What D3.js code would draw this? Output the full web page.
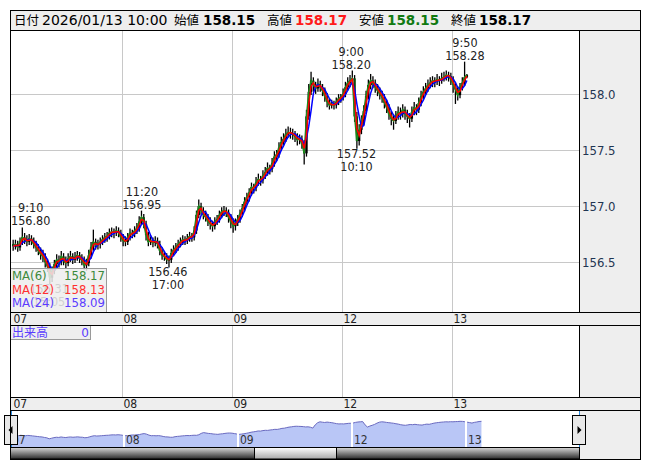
<!DOCTYPE html>
<html>
<head>
<meta charset="utf-8">
<script src="https://cdn.jsdelivr.net/npm/d3@7"></script>
<style>
  body { margin: 0; background: #fff; }
</style>
</head>
<body>
<svg></svg>
<script>
// 30分足 (USD/JPY), 07 7:00 -> 13 10:00
const dayLabels = ["07", "08", "09", "12", "13"];
const barsPerDay = 48;
const barMinutes = 30;
const sourceMinutes = 5; // MA periods of the original 5-minute chart

const opens = [
  // 07
  156.66,156.64,156.66,156.63,156.68,156.72,156.70,156.68,156.71,156.69,156.66,156.63,156.60,156.57,156.55,156.50,
  156.46,156.36,156.42,156.48,156.52,156.50,156.55,156.51,156.49,156.53,156.55,156.52,156.54,156.56,156.53,156.52,
  156.47,156.49,156.56,156.63,156.68,156.65,156.66,156.68,156.70,156.72,156.73,156.76,156.77,156.76,156.78,156.76,
  // 08
  156.72,156.69,156.68,156.72,156.76,156.75,156.78,156.80,156.86,156.90,156.84,156.74,156.68,156.69,156.67,156.69,
  156.66,156.60,156.56,156.55,156.52,156.52,156.58,156.61,156.63,156.66,156.68,156.70,156.69,156.71,156.73,156.72,
  156.78,156.92,157.00,156.96,156.92,156.90,156.86,156.84,156.82,156.86,156.88,156.92,156.95,156.96,156.94,156.90,
  // 09
  156.86,156.82,156.85,156.88,156.93,156.98,157.04,157.08,157.12,157.17,157.16,157.21,157.24,157.23,157.27,157.30,
  157.34,157.33,157.38,157.44,157.46,157.52,157.57,157.60,157.64,157.66,157.65,157.64,157.62,157.59,157.60,157.56,
  157.47,157.80,158.02,158.12,158.08,158.05,158.09,158.06,158.03,157.98,157.93,157.90,157.91,157.90,157.93,157.96,
  // 12
  157.97,158.00,158.06,158.10,158.12,158.14,157.80,157.58,157.68,157.76,157.85,157.98,158.08,158.12,158.10,158.06,
  158.03,158.00,157.97,157.92,157.88,157.82,157.78,157.76,157.80,157.84,157.82,157.86,157.82,157.80,157.78,157.84,
  157.88,157.86,157.92,157.98,158.02,158.05,158.08,158.10,158.12,158.11,158.13,158.12,158.14,158.15,158.17,158.16,
  // 13
  158.13,158.08,158.04,157.99,158.06,158.10,158.15
];
const highs = [
  156.69,156.69,156.68,156.71,156.80,156.75,156.73,156.74,156.73,156.71,156.68,156.65,156.62,156.60,156.57,156.52,
  156.48,156.45,156.51,156.56,156.55,156.59,156.57,156.54,156.57,156.59,156.57,156.58,156.59,156.58,156.56,156.54,
  156.52,156.60,156.67,156.78,156.70,156.69,156.71,156.73,156.75,156.76,156.79,156.80,156.79,156.81,156.80,156.78,
  156.74,156.72,156.75,156.79,156.78,156.81,156.84,156.90,156.95,156.92,156.86,156.76,156.72,156.71,156.72,156.71,
  156.68,156.62,156.59,156.57,156.55,156.61,156.64,156.66,156.69,156.71,156.73,156.72,156.74,156.76,156.75,156.81,
  156.95,157.05,157.02,156.98,156.95,156.92,156.89,156.86,156.89,156.91,156.95,156.98,156.99,156.98,156.96,156.92,
  156.88,156.88,156.91,156.96,157.01,157.07,157.11,157.15,157.20,157.19,157.25,157.28,157.26,157.31,157.34,157.38,
  157.36,157.42,157.48,157.49,157.56,157.61,157.64,157.68,157.70,157.69,157.68,157.66,157.64,157.63,157.62,157.58,
  157.85,158.08,158.19,158.14,158.10,158.13,158.11,158.08,158.05,158.00,157.95,157.94,157.93,157.96,157.99,157.99,
  158.04,158.10,158.14,158.16,158.20,158.16,157.83,157.72,157.80,157.89,158.02,158.12,158.17,158.15,158.12,158.08,
  158.05,158.02,157.99,157.94,157.90,157.84,157.81,157.84,157.88,157.87,157.90,157.88,157.85,157.82,157.88,157.92,
  157.90,157.96,158.02,158.06,158.09,158.12,158.14,158.15,158.14,158.17,158.15,158.18,158.19,158.20,158.19,158.18,
  158.15,158.10,158.06,158.09,158.14,158.28,158.17
];
const lows = [
  156.61,156.62,156.60,156.61,156.66,156.67,156.65,156.66,156.66,156.63,156.60,156.57,156.53,156.51,156.46,156.42,
  156.31,156.33,156.40,156.46,156.46,156.48,156.48,156.45,156.47,156.51,156.49,156.50,156.52,156.50,156.48,156.44,
  156.43,156.47,156.54,156.61,156.62,156.62,156.63,156.66,156.68,156.69,156.71,156.73,156.72,156.74,156.73,156.69,
  156.65,156.65,156.66,156.70,156.72,156.73,156.76,156.78,156.84,156.81,156.70,156.65,156.66,156.64,156.65,156.63,
  156.57,156.53,156.52,156.49,156.46,156.50,156.56,156.59,156.61,156.64,156.66,156.66,156.67,156.69,156.69,156.70,
  156.76,156.90,156.93,156.89,156.87,156.83,156.80,156.78,156.80,156.84,156.86,156.90,156.92,156.91,156.86,156.81,
  156.77,156.79,156.83,156.86,156.91,156.96,157.02,157.05,157.10,157.12,157.14,157.19,157.19,157.21,157.25,157.28,
  157.29,157.31,157.36,157.41,157.44,157.50,157.55,157.58,157.62,157.61,157.60,157.58,157.55,157.56,157.52,157.38,
  157.45,157.78,158.00,158.03,158.01,158.03,158.03,157.99,157.94,157.89,157.87,157.88,157.87,157.88,157.91,157.93,
  157.95,157.98,158.04,158.07,158.09,157.76,157.52,157.55,157.65,157.73,157.83,157.96,158.05,158.06,158.02,157.99,
  157.96,157.93,157.88,157.84,157.78,157.73,157.69,157.74,157.78,157.78,157.80,157.78,157.75,157.71,157.76,157.82,
  157.82,157.84,157.90,157.96,158.00,158.03,158.06,158.07,158.07,158.09,158.08,158.10,158.12,158.13,158.12,158.09,
  158.02,157.92,157.95,157.97,158.04,158.08,158.15
];
const closes = [
  156.64,156.66,156.63,156.68,156.72,156.70,156.68,156.71,156.69,156.66,156.63,156.60,156.57,156.55,156.50,156.46,
  156.36,156.42,156.48,156.52,156.50,156.55,156.51,156.49,156.53,156.55,156.52,156.54,156.56,156.53,156.52,156.47,
  156.49,156.56,156.63,156.68,156.65,156.66,156.68,156.70,156.72,156.73,156.76,156.77,156.76,156.78,156.76,156.72,
  156.69,156.68,156.72,156.76,156.75,156.78,156.80,156.86,156.90,156.84,156.74,156.68,156.69,156.67,156.69,156.66,
  156.60,156.56,156.55,156.52,156.52,156.58,156.61,156.63,156.66,156.68,156.70,156.69,156.71,156.73,156.72,156.78,
  156.92,157.00,156.96,156.92,156.90,156.86,156.84,156.82,156.86,156.88,156.92,156.95,156.96,156.94,156.90,156.86,
  156.82,156.85,156.88,156.93,156.98,157.04,157.08,157.12,157.17,157.16,157.21,157.24,157.23,157.27,157.30,157.34,
  157.33,157.38,157.44,157.46,157.52,157.57,157.60,157.64,157.66,157.65,157.64,157.62,157.59,157.60,157.56,157.47,
  157.80,158.02,158.12,158.08,158.05,158.09,158.06,158.03,157.98,157.93,157.90,157.91,157.90,157.93,157.96,157.97,
  158.00,158.06,158.10,158.12,158.14,157.80,157.58,157.68,157.76,157.85,157.98,158.08,158.12,158.10,158.06,158.03,
  158.00,157.97,157.92,157.88,157.82,157.78,157.76,157.80,157.84,157.82,157.86,157.82,157.80,157.78,157.84,157.88,
  157.86,157.92,157.98,158.02,158.05,158.08,158.10,158.12,158.11,158.13,158.12,158.14,158.15,158.17,158.16,158.13,
  158.08,158.04,157.99,158.06,158.10,158.15,158.17
];

const maNames = ["MA(6)", "MA(12)", "MA(24)"];
const maPeriods = [6, 12, 24];
const maLatest = [158.17, 158.13, 158.09];
const priceTicks = [156.5, 157.0, 157.5, 158.0];

const headerDate = "2026/01/13 10:00";
const headerLabels = ["始値", "高値", "安値", "終値"];
const headerValues = [158.15, 158.17, 158.15, 158.17];

// high / low notes on the chart
const noteTimes = ["9:10", "15:05", "11:20", "17:00", "9:00", "10:10", "9:50"];
const noteDays = [0, 0, 1, 1, 3, 3, 4];
const notePrices = [156.80, 156.31, 156.95, 156.46, 158.20, 157.52, 158.28];
const noteKinds = ["high", "low", "high", "low", "high", "low", "high"];

const volumeLatest = 0;

// ---- layout
const W = 653, H = 470;
const L = 10, R = 640, plotR = 579;
const plotTop = 30, plotBot = 312, bar1Bot = 325, volBot = 397, bar2Bot = 410, navBot = 447, bottom = 459;
const F = '"DejaVu Sans Condensed","DejaVu Sans","Noto Sans CJK JP",sans-serif';
const FH = '"DejaVu Sans","Noto Sans CJK JP",sans-serif';

const svg = d3.select("svg").attr("width", W).attr("height", H);
const n = closes.length;

const x = d3.scaleLinear().domain([0, barsPerDay]).range([12, 122]);
const y = d3.scaleLinear().domain([156.5, 158.0]).range([262, 94]);

const defs = svg.append("defs");
defs.append("clipPath").attr("id", "clip")
  .append("rect").attr("x", L + 1).attr("y", plotTop).attr("width", plotR - L - 1).attr("height", plotBot - plotTop);
defs.append("clipPath").attr("id", "navclip")
  .append("rect").attr("x", L + 1).attr("y", bar2Bot).attr("width", plotR - L - 1).attr("height", navBot - bar2Bot);
const tg = defs.append("linearGradient").attr("id", "track").attr("x1", 0).attr("y1", 0).attr("x2", 0).attr("y2", 1);
tg.append("stop").attr("offset", "0%").attr("stop-color", "#d8d8d8");
tg.append("stop").attr("offset", "100%").attr("stop-color", "#2a2a2a");
const thg = defs.append("linearGradient").attr("id", "thumb").attr("x1", 0).attr("y1", 0).attr("x2", 0).attr("y2", 1);
thg.append("stop").attr("offset", "0%").attr("stop-color", "#ffffff");
thg.append("stop").attr("offset", "100%").attr("stop-color", "#a8a8a8");

// ---- panels
const bg = svg.append("g");
bg.append("rect").attr("x", L).attr("y", 10).attr("width", R - L).attr("height", 20).attr("fill", "#eeeeee");
bg.append("rect").attr("x", L).attr("y", plotTop).attr("width", plotR - L).attr("height", plotBot - plotTop).attr("fill", "#fff");
bg.append("rect").attr("x", plotR).attr("y", plotTop).attr("width", R - plotR).attr("height", plotBot - plotTop).attr("fill", "#eeeeee");
bg.append("rect").attr("x", L).attr("y", plotBot).attr("width", R - L).attr("height", bar1Bot - plotBot).attr("fill", "#eeeeee");
bg.append("rect").attr("x", L).attr("y", bar1Bot).attr("width", plotR - L).attr("height", volBot - bar1Bot).attr("fill", "#fff");
bg.append("rect").attr("x", plotR).attr("y", bar1Bot).attr("width", R - plotR).attr("height", volBot - bar1Bot).attr("fill", "#eeeeee");
bg.append("rect").attr("x", L).attr("y", volBot).attr("width", R - L).attr("height", bar2Bot - volBot).attr("fill", "#eeeeee");
bg.append("rect").attr("x", L).attr("y", bar2Bot).attr("width", plotR - L).attr("height", navBot - bar2Bot).attr("fill", "#fff");
bg.append("rect").attr("x", plotR).attr("y", bar2Bot).attr("width", R - plotR).attr("height", bottom - bar2Bot).attr("fill", "#eeeeee");

// grid
const dayStarts = dayLabels.map((d, k) => k * barsPerDay);
const grid = svg.append("g").attr("stroke", "#c8c8c8").attr("shape-rendering", "crispEdges");
priceTicks.forEach(t => {
  grid.append("line").attr("x1", L).attr("x2", plotR).attr("y1", Math.round(y(t)) + 0.5).attr("y2", Math.round(y(t)) + 0.5);
});
dayStarts.slice(1).forEach(s => {
  const xx = Math.round(x(s)) + 0.5;
  grid.append("line").attr("x1", xx).attr("x2", xx).attr("y1", plotTop).attr("y2", plotBot);
  grid.append("line").attr("x1", xx).attr("x2", xx).attr("y1", bar1Bot).attr("y2", volBot);
});

// y axis
svg.append("g")
  .attr("transform", `translate(${plotR},0)`)
  .call(d3.axisRight(y).tickValues(priceTicks).tickFormat(d3.format(".1f")).tickSize(0).tickPadding(3))
  .attr("font-family", F).attr("font-size", 13)
  .call(g => g.select(".domain").remove())
  .selectAll("text").attr("fill", "#1f3552");

// day labels in both date bars
[plotBot + 10.5, volBot + 10.5].forEach(base => {
  svg.append("g").selectAll("text").data(dayLabels).join("text")
    .attr("x", (d, k) => x(dayStarts[k]) + 1.5)
    .attr("y", base)
    .attr("font-family", F).attr("font-size", 12).attr("fill", "#222")
    .text(d => d);
});

// ---- candles
const plot = svg.append("g").attr("clip-path", "url(#clip)");
const idx = d3.range(n);
plot.selectAll("line.wick").data(idx).join("line").attr("class", "wick")
  .attr("x1", i => x(i + 0.5)).attr("x2", i => x(i + 0.5))
  .attr("y1", i => y(highs[i]) - 1).attr("y2", i => y(lows[i]) + 1)
  .attr("stroke", "#000").attr("stroke-width", 1.3);
plot.selectAll("rect.body").data(idx).join("rect").attr("class", "body")
  .attr("x", i => x(i + 0.5) - 1.15).attr("width", 2.3)
  .attr("y", i => y(Math.max(opens[i], closes[i])))
  .attr("height", i => Math.max(1, Math.abs(y(opens[i]) - y(closes[i]))))
  .attr("fill", i => closes[i] >= opens[i] ? "#000" : "#0d4d0d");

// moving averages (periods converted to 30-minute bars)
const maColors = ["#1b8a1b", "#ff0000", "#0000ff"];
function sma(period) {
  const w = Math.max(1, Math.round(period * sourceMinutes / barMinutes));
  return closes.map((c, i) => d3.mean(closes.slice(Math.max(0, i - w + 1), i + 1)));
}
const line = d3.line().x((d, i) => x(i + 0.5)).y(d => y(d));
[0, 2, 1].forEach(k => {
  plot.append("path").datum(sma(maPeriods[k]))
    .attr("d", line).attr("fill", "none")
    .attr("stroke", maColors[k]).attr("stroke-width", 1.5);
});

// high / low notes
const notes = svg.append("g").attr("font-family", F).attr("font-size", 12.5).attr("fill", "#222").attr("text-anchor", "middle");
noteTimes.forEach((t, k) => {
  const [hh, mm] = t.split(":").map(Number);
  const pos = noteDays[k] * barsPerDay + ((hh - 7) * 60 + mm) / barMinutes;
  const py = y(notePrices[k]);
  const g = notes.append("g");
  const price = g.append("text").text(notePrices[k].toFixed(2));
  const time = g.append("text").text(t);
  if (noteKinds[k] === "high") {
    price.attr("y", py - 3);
    time.attr("y", py - 16);
  } else {
    price.attr("y", py + 10);
    time.attr("y", py + 23);
  }
  const w = Math.max(price.node().getComputedTextLength(), time.node().getComputedTextLength());
  const cx = Math.max(L + 1 + w / 2, Math.min(plotR - 1 - w / 2, x(pos)));
  price.attr("x", cx);
  time.attr("x", cx);
});

// MA legend (drawn over the 15:05 low note, as in the original)
const leg = svg.append("g").attr("font-family", F).attr("font-size", 13);
leg.append("rect").attr("x", L + 0.5).attr("y", 268.5).attr("width", 96).attr("height", 44)
  .attr("fill", "rgba(238,238,238,0.86)").attr("stroke", "#9a9a9a");
const legColors = ["#3c8a3c", "#ff3030", "#5a3cff"];
maNames.forEach((m, k) => {
  const by = 280 + k * 13.5;
  leg.append("text").attr("x", L + 2).attr("y", by).attr("fill", legColors[k]).text(m);
  leg.append("text").attr("x", L + 95).attr("y", by).attr("text-anchor", "end").attr("fill", legColors[k]).text(maLatest[k].toFixed(2));
});

// volume label
const vol = svg.append("g").attr("font-family", FH).attr("font-size", 12).attr("fill", "#5a3cff");
vol.append("rect").attr("x", L + 0.5).attr("y", bar1Bot + 0.5).attr("width", 80).attr("height", 14)
  .attr("fill", "#eeeeee").attr("stroke", "#9a9a9a");
vol.append("text").attr("x", L + 2).attr("y", bar1Bot + 11.5).text("出来高");
vol.append("text").attr("x", L + 79).attr("y", bar1Bot + 11.5).attr("text-anchor", "end").text(volumeLatest);

// ---- navigator
const xn = d3.scaleLinear().domain([0, barsPerDay]).range([10, 124]);
const yn = d3.scaleLinear().domain([156.65, 158.1]).range([436, 422]);
const nav = svg.append("g").attr("clip-path", "url(#navclip)");
nav.append("path").datum(closes)
  .attr("d", d3.area().x((d, i) => xn(i + 0.5)).y0(navBot).y1(d => yn(d)))
  .attr("fill", "#b9c6f6");
nav.append("path").datum(closes)
  .attr("d", d3.line().x((d, i) => xn(i + 0.5)).y(d => yn(d)))
  .attr("fill", "none").attr("stroke", "#6a6ac0").attr("stroke-width", 1);
dayStarts.slice(1).forEach(s => {
  nav.append("line").attr("x1", xn(s)).attr("x2", xn(s)).attr("y1", 415).attr("y2", navBot)
    .attr("stroke", "#fff").attr("stroke-width", 2);
});
nav.selectAll("text").data(dayLabels).join("text")
  .attr("x", (d, k) => xn(dayStarts[k]) + 2).attr("y", 444)
  .attr("font-family", F).attr("font-size", 12).attr("fill", "#333").text(d => d);

svg.append("g").attr("stroke", "#2a8adf").attr("shape-rendering", "crispEdges")
  .selectAll("line").data([L + 1.5, plotR + 0.5]).join("line")
  .attr("x1", d => d).attr("x2", d => d).attr("y1", bar2Bot).attr("y2", navBot);

// nav buttons
[[4, -1], [572, 1]].forEach(([bx, dir]) => {
  svg.append("rect").attr("x", bx + 0.5).attr("y", 415.5).attr("width", 13).attr("height", 29)
    .attr("fill", "#e8e8e8").attr("stroke", "#000");
  const cx = bx + 7;
  const pts = dir < 0
    ? [[cx - 2.5, 430], [cx + 1.5, 426], [cx + 1.5, 434]]
    : [[cx + 2.5, 430], [cx - 1.5, 426], [cx - 1.5, 434]];
  svg.append("polygon").attr("points", pts.map(p => p.join(",")).join(" ")).attr("fill", "#000");
});

// scrollbar
svg.append("rect").attr("x", L + 0.5).attr("y", navBot + 0.5).attr("width", plotR - L).attr("height", 11.5)
  .attr("fill", "url(#track)").attr("stroke", "#000");
svg.append("rect").attr("x", 254.5).attr("y", navBot + 0.5).attr("width", 82).attr("height", 11.5)
  .attr("fill", "url(#thumb)").attr("stroke", "#000");

// ---- frame lines
const fr = svg.append("g").attr("stroke", "#000").attr("shape-rendering", "crispEdges");
[[L, R, 10.5], [L, R, plotTop + 0.5], [L, R, plotBot + 0.5], [L, R, bar1Bot + 0.5],
 [L, R, volBot + 0.5], [L, R, bar2Bot + 0.5], [L, R, bottom + 0.5]].forEach(([a, b, yy]) => {
  fr.append("line").attr("x1", a).attr("x2", b + 1).attr("y1", yy).attr("y2", yy);
});
fr.append("line").attr("x1", L + 0.5).attr("x2", L + 0.5).attr("y1", 10).attr("y2", bottom + 1).attr("stroke-width", 1.5);
fr.append("line").attr("x1", R + 0.5).attr("x2", R + 0.5).attr("y1", 10).attr("y2", bottom + 1);
fr.append("line").attr("x1", plotR + 0.5).attr("x2", plotR + 0.5).attr("y1", plotTop).attr("y2", plotBot);
fr.append("line").attr("x1", plotR + 0.5).attr("x2", plotR + 0.5).attr("y1", bar1Bot).attr("y2", volBot);

// ---- header
const hd = svg.append("g").attr("font-family", FH);
const labelX = [174, 267, 359, 451];
const valueX = [203, 295, 387, 479];
const valueColors = ["#000", "#ff1a1a", "#117a11", "#000"];
hd.append("text").attr("x", 14).attr("y", 25).attr("font-size", 12.5).text("日付");
hd.append("text").attr("x", 42).attr("y", 25).attr("font-size", 14).text(headerDate);
headerLabels.forEach((lb, k) => {
  hd.append("text").attr("x", labelX[k]).attr("y", 25).attr("font-size", 12.5).text(lb);
  hd.append("text").attr("x", valueX[k]).attr("y", 25).attr("font-size", 13.5).attr("font-weight", "bold")
    .attr("fill", valueColors[k]).text(headerValues[k].toFixed(2));
});
</script>
</body>
</html>
